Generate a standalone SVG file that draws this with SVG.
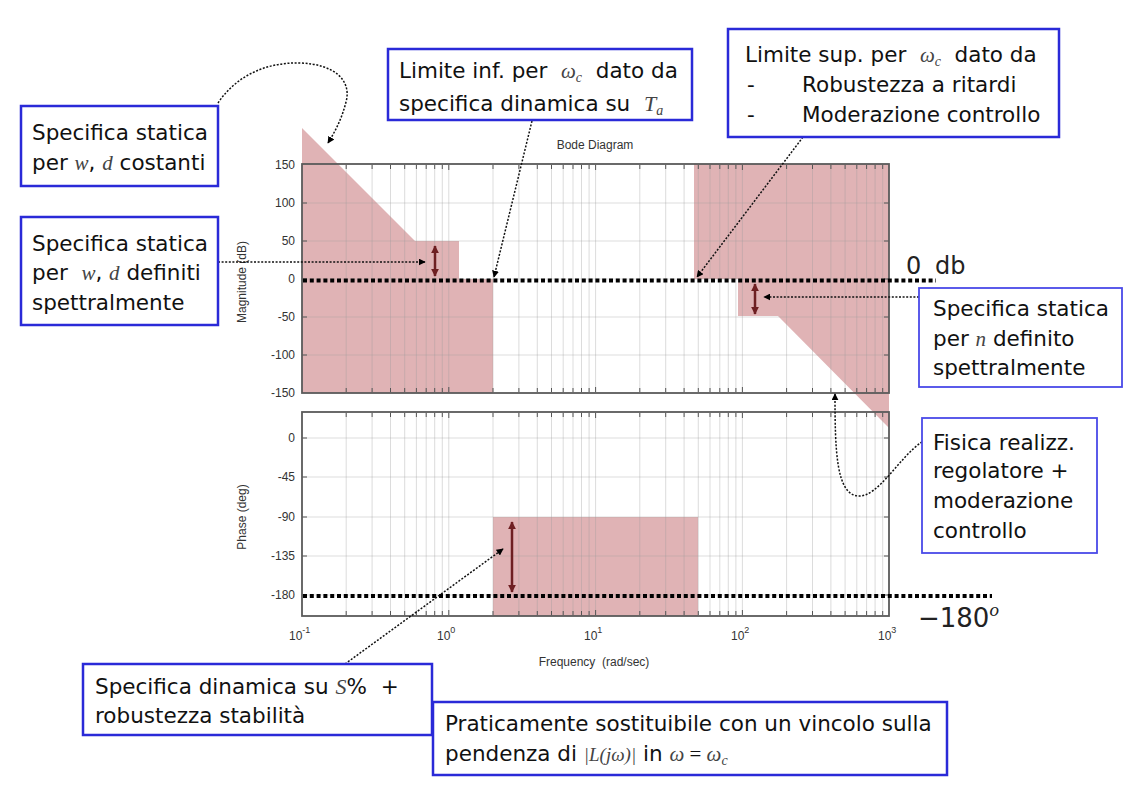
<svg xmlns="http://www.w3.org/2000/svg" width="1141" height="793" viewBox="0 0 1141 793">
<style>
.box{fill:#fff;stroke:#2a2ad8;stroke-width:2.5}
.box2{fill:#fff;stroke:#4a4ae8;stroke-width:1.8}
.t{font-family:"DejaVu Sans","Liberation Sans",sans-serif;font-size:21.5px;fill:#111}
.m{font-family:"Liberation Serif",serif;font-style:italic;fill:#444}
.ax{font-family:"Liberation Sans",Arial,sans-serif;font-size:12px;fill:#333}
.pink{fill:#e0b3b5}
.grid{stroke:#9a9a9a;stroke-opacity:0.35;stroke-width:1}
.frame{fill:none;stroke:#5a5a5a;stroke-width:1.8}
.dot0{stroke:#000;stroke-width:4;stroke-dasharray:4 2.8;fill:none}
.conn{stroke:#111;stroke-width:1.5;stroke-dasharray:2 1.6;fill:none}
.dbl{stroke:#6e1f22;stroke-width:2.5;fill:none}
</style>
<defs>
<marker id="ah" viewBox="0 0 10 10" refX="9" refY="5" markerWidth="7" markerHeight="7" markerUnits="userSpaceOnUse" orient="auto"><path d="M0,0 L10,5 L0,10 z" fill="#000"/></marker>
<marker id="rh" viewBox="0 0 10 10" refX="9" refY="5" markerWidth="8" markerHeight="8" markerUnits="userSpaceOnUse" orient="auto-start-reverse"><path d="M0,0 L10,5 L0,10 z" fill="#6e1f22"/></marker>
</defs>
<rect width="1141" height="793" fill="#fff"/>

<g id="bode">
<polygon class="pink" points="302,128 415,241 459,241 459,279 493,279 493,393 302,393"/>
<polygon class="pink" points="694,164 889,164 889,428 778,316 738,316 738,279 694,279"/>
<rect class="pink" x="493" y="517" width="205" height="99"/>
<g class="grid">
<path d="M346.2,164V393M372.1,164V393M390.5,164V393M404.7,164V393M416.4,164V393M426.2,164V393M434.7,164V393M442.3,164V393M448.8,164V393M493,164V393M518.9,164V393M537.3,164V393M551.5,164V393M563.2,164V393M573,164V393M581.5,164V393M589.1,164V393M595.6,164V393M639.8,164V393M665.7,164V393M684.1,164V393M698.3,164V393M710,164V393M719.8,164V393M728.3,164V393M735.9,164V393M742.4,164V393M786.6,164V393M812.5,164V393M830.9,164V393M845.1,164V393M856.8,164V393M866.6,164V393M875.1,164V393M882.7,164V393"/>
<path d="M302,203H889M302,241H889M302,279H889M302,317H889M302,355H889"/>
<path d="M346.2,412V616M372.1,412V616M390.5,412V616M404.7,412V616M416.4,412V616M426.2,412V616M434.7,412V616M442.3,412V616M448.8,412V616M493,412V616M518.9,412V616M537.3,412V616M551.5,412V616M563.2,412V616M573,412V616M581.5,412V616M589.1,412V616M595.6,412V616M639.8,412V616M665.7,412V616M684.1,412V616M698.3,412V616M710,412V616M719.8,412V616M728.3,412V616M735.9,412V616M742.4,412V616M786.6,412V616M812.5,412V616M830.9,412V616M845.1,412V616M856.8,412V616M866.6,412V616M875.1,412V616M882.7,412V616"/>
<path d="M302,438H889M302,477H889M302,517H889M302,556H889M302,595H889"/>
</g>
<g stroke="#555" stroke-width="1">
<path d="M346.2,165v4M372.1,165v4M390.5,165v4M404.7,165v4M416.4,165v4M426.2,165v4M434.7,165v4M442.3,165v4M448.8,165v5M493,165v4M518.9,165v4M537.3,165v4M551.5,165v4M563.2,165v4M573,165v4M581.5,165v4M589.1,165v4M595.6,165v5M639.8,165v4M665.7,165v4M684.1,165v4M698.3,165v4M710,165v4M719.8,165v4M728.3,165v4M735.9,165v4M742.4,165v5M786.6,165v4M812.5,165v4M830.9,165v4M845.1,165v4M856.8,165v4M866.6,165v4M875.1,165v4M882.7,165v4"/>
<path d="M346.2,392v-4M372.1,392v-4M390.5,392v-4M404.7,392v-4M416.4,392v-4M426.2,392v-4M434.7,392v-4M442.3,392v-4M448.8,392v-5M493,392v-4M518.9,392v-4M537.3,392v-4M551.5,392v-4M563.2,392v-4M573,392v-4M581.5,392v-4M589.1,392v-4M595.6,392v-5M639.8,392v-4M665.7,392v-4M684.1,392v-4M698.3,392v-4M710,392v-4M719.8,392v-4M728.3,392v-4M735.9,392v-4M742.4,392v-5M786.6,392v-4M812.5,392v-4M830.9,392v-4M845.1,392v-4M856.8,392v-4M866.6,392v-4M875.1,392v-4M882.7,392v-4"/>
<path d="M346.2,413v4M372.1,413v4M390.5,413v4M404.7,413v4M416.4,413v4M426.2,413v4M434.7,413v4M442.3,413v4M448.8,413v5M493,413v4M518.9,413v4M537.3,413v4M551.5,413v4M563.2,413v4M573,413v4M581.5,413v4M589.1,413v4M595.6,413v5M639.8,413v4M665.7,413v4M684.1,413v4M698.3,413v4M710,413v4M719.8,413v4M728.3,413v4M735.9,413v4M742.4,413v5M786.6,413v4M812.5,413v4M830.9,413v4M845.1,413v4M856.8,413v4M866.6,413v4M875.1,413v4M882.7,413v4"/>
<path d="M346.2,615v-4M372.1,615v-4M390.5,615v-4M404.7,615v-4M416.4,615v-4M426.2,615v-4M434.7,615v-4M442.3,615v-4M448.8,615v-5M493,615v-4M518.9,615v-4M537.3,615v-4M551.5,615v-4M563.2,615v-4M573,615v-4M581.5,615v-4M589.1,615v-4M595.6,615v-5M639.8,615v-4M665.7,615v-4M684.1,615v-4M698.3,615v-4M710,615v-4M719.8,615v-4M728.3,615v-4M735.9,615v-4M742.4,615v-5M786.6,615v-4M812.5,615v-4M830.9,615v-4M845.1,615v-4M856.8,615v-4M866.6,615v-4M875.1,615v-4M882.7,615v-4"/>
<path d="M302,203h5M302,241h5M302,279h5M302,317h5M302,355h5M889,203h-5M889,241h-5M889,279h-5M889,317h-5M889,355h-5"/>
<path d="M302,438h5M302,477h5M302,517h5M302,556h5M302,595h5M889,438h-5M889,477h-5M889,517h-5M889,556h-5M889,595h-5"/>
</g>
<rect class="frame" x="302" y="164" width="587" height="229"/>
<rect class="frame" x="302" y="412" width="587" height="204"/>
<g class="ax" text-anchor="end">
<text x="295" y="169">150</text><text x="295" y="207">100</text><text x="295" y="245">50</text><text x="295" y="283">0</text><text x="295" y="321">-50</text><text x="295" y="359">-100</text><text x="295" y="397">-150</text>
<text x="295" y="442">0</text><text x="295" y="481">-45</text><text x="295" y="521">-90</text><text x="295" y="560">-135</text><text x="295" y="599">-180</text>
</g>
<g class="ax" fill="#444">
<text x="289" y="640">10<tspan dy="-7" font-size="9">-1</tspan></text>
<text x="437" y="640">10<tspan dy="-7" font-size="9">0</tspan></text>
<text x="584" y="640">10<tspan dy="-7" font-size="9">1</tspan></text>
<text x="731" y="640">10<tspan dy="-7" font-size="9">2</tspan></text>
<text x="878" y="640">10<tspan dy="-7" font-size="9">3</tspan></text>
</g>
<text class="ax" x="595" y="149" text-anchor="middle">Bode Diagram</text>
<text class="ax" x="594" y="666" text-anchor="middle" xml:space="preserve">Frequency  (rad/sec)</text>
<text class="ax" transform="translate(246,282) rotate(-90)" text-anchor="middle">Magnitude (dB)</text>
<text class="ax" transform="translate(246,517) rotate(-90)" text-anchor="middle">Phase (deg)</text>
<path class="dot0" d="M303,280.5H936"/>
<path class="dot0" d="M303,596H992"/>
<text x="906" y="274" font-family="DejaVu Sans, sans-serif" font-size="24" fill="#222" word-spacing="6">0 db</text>
<text x="918" y="627" font-family="DejaVu Sans, sans-serif" font-size="26" fill="#222">−180<tspan font-family="Liberation Serif, serif" font-style="italic" font-size="19" dy="-11">o</tspan></text>
<path class="dbl" d="M435,246V276" marker-start="url(#rh)" marker-end="url(#rh)"/>
<path class="dbl" d="M755,284V314" marker-start="url(#rh)" marker-end="url(#rh)"/>
<path class="dbl" d="M512,522V592" marker-start="url(#rh)" marker-end="url(#rh)"/>
</g>

<g id="connectors">
<path class="conn" d="M218,103 C236,76 266,62 300,63 C334,64 352,80 346,102 C342,118 336,130 328,143" marker-end="url(#ah)"/>
<path class="conn" d="M218,262 H425" marker-end="url(#ah)"/>
<path class="conn" d="M532,121 L494,277" marker-end="url(#ah)"/>
<path class="conn" d="M803,137 L697,277" marker-end="url(#ah)"/>
<path class="conn" d="M919,297 H764" marker-end="url(#ah)"/>
<path class="conn" d="M922,442 C900,456 878,498 858,496 C836,494 835,450 835,394" marker-end="url(#ah)"/>
<path class="conn" d="M345,664 L503,549" marker-end="url(#ah)"/>
</g>

<g id="n1">
<rect class="box" x="21" y="106" width="197" height="80"/>
<text class="t" x="32" y="140">Specifica statica</text>
<text class="t" x="32" y="170">per <tspan class="m" font-size="21">w</tspan>, <tspan class="m" font-size="21">d</tspan> costanti</text>
</g>
<g id="n2">
<rect class="box" x="21" y="217" width="197" height="108"/>
<text class="t" x="32" y="251">Specifica statica</text>
<text class="t" x="32" y="280" xml:space="preserve">per  <tspan class="m" font-size="21">w</tspan>, <tspan class="m" font-size="21">d</tspan> definiti</text>
<text class="t" x="32" y="310">spettralmente</text>
</g>
<g id="n3">
<rect class="box" x="388" y="49" width="304" height="71"/>
<text class="t" x="399" y="78" xml:space="preserve">Limite inf. per  <tspan class="m" font-size="21">ω<tspan font-size="14" dy="4">c</tspan></tspan><tspan dy="-4">  dato da</tspan></text>
<text class="t" x="399" y="111" xml:space="preserve">specifica dinamica su  <tspan class="m" font-size="22">T<tspan font-size="14" dy="4">a</tspan></tspan></text>
</g>
<g id="n4">
<rect class="box" x="728" y="29" width="331" height="108"/>
<text class="t" x="745" y="62" xml:space="preserve">Limite sup. per  <tspan class="m" font-size="21">ω<tspan font-size="14" dy="4">c</tspan></tspan><tspan dy="-4">  dato da</tspan></text>
<text class="t" x="747" y="92">-</text><text class="t" x="802" y="92">Robustezza a ritardi</text>
<text class="t" x="747" y="122">-</text><text class="t" x="802" y="122">Moderazione controllo</text>
</g>
<g id="n5">
<rect class="box2" x="919" y="288" width="203" height="99"/>
<text class="t" x="933" y="316">Specifica statica</text>
<text class="t" x="933" y="346">per <tspan class="m" font-size="21">n</tspan> definito</text>
<text class="t" x="933" y="375">spettralmente</text>
</g>
<g id="n6">
<rect class="box2" x="922" y="418" width="175" height="135"/>
<text class="t" x="933" y="450">Fisica realizz.</text>
<text class="t" x="933" y="478">regolatore +</text>
<text class="t" x="933" y="508">moderazione</text>
<text class="t" x="933" y="538">controllo</text>
</g>
<g id="n7">
<rect class="box" x="83" y="664" width="349" height="71"/>
<text class="t" x="95" y="694" xml:space="preserve">Specifica dinamica su <tspan class="m" font-size="22">S</tspan>%  +</text>
<text class="t" x="95" y="723">robustezza stabilità</text>
</g>
<g id="n8">
<rect class="box" x="433" y="702" width="514" height="73"/>
<text class="t" x="445" y="731">Praticamente sostituibile con un vincolo sulla</text>
<text class="t" x="445" y="761">pendenza di <tspan class="m" font-size="19">|L(jω)|</tspan> in <tspan class="m" font-size="21">ω</tspan><tspan font-family="Liberation Serif, serif" font-size="21"> = </tspan><tspan class="m" font-size="21">ω<tspan font-size="14" dy="4">c</tspan></tspan></text>
</g>
</svg>
